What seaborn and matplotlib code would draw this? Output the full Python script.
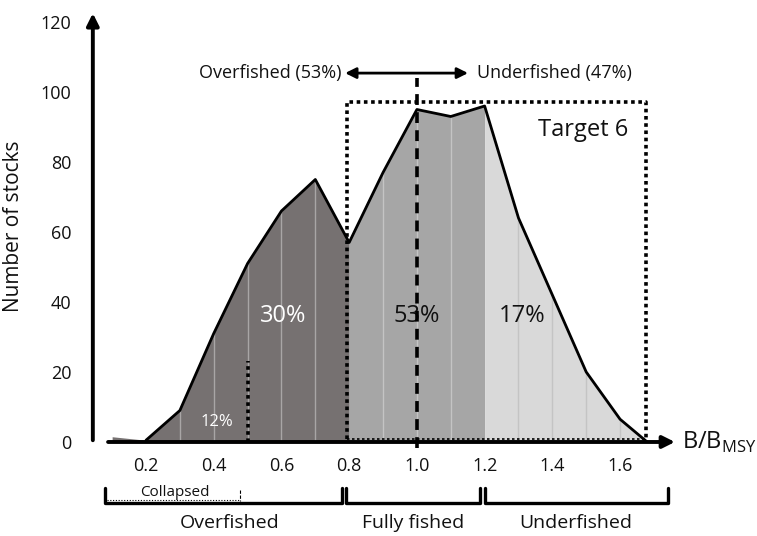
import matplotlib
matplotlib.use("Agg")
import matplotlib.pyplot as plt
import seaborn as sns
import pandas as pd

# B/BMSY bins and number of stocks
b_ratio = [0.1, 0.2, 0.3, 0.4, 0.5, 0.6, 0.7, 0.8, 0.9, 1.0, 1.1, 1.2, 1.3, 1.4, 1.5, 1.6, 1.68]
n_stocks = [1.5, 0.5, 9, 31, 51, 66, 75, 57, 77, 95, 93, 96, 64, 42, 20, 6.5, 0]

# zone boundaries, colours and in-zone share labels
zone_edges = [0.1, 0.8, 1.2, 1.68]
zone_colors = ["#767171", "#a6a6a6", "#d9d9d9"]
zone_lines = ["#a9a6a6", "#c4c4c4", "#c4c4c4"]
zone_pct = ["30%", "53%", "17%"]
zone_pct_pos = [(0.605, 36), (1.0, 36), (1.31, 36)]
zone_pct_color = ["white", "#111111", "#111111"]

y_ticks = [0, 20, 40, 60, 80, 100, 120]
x_ticks = [0.2, 0.4, 0.6, 0.8, 1.0, 1.2, 1.4, 1.6]

df = pd.DataFrame({"b": b_ratio, "n": n_stocks})

sns.set_theme(style="white")
plt.rcParams["font.family"] = ["Open Sans", "DejaVu Sans"]
plt.rcParams["text.color"] = "#111111"
plt.rcParams["axes.labelcolor"] = "#111111"
plt.rcParams["xtick.color"] = "#111111"
plt.rcParams["ytick.color"] = "#111111"

fig = plt.figure(figsize=(7.57, 5.36), dpi=100)
ax = fig.add_axes([0.1034, 0.1754, 0.8052, 0.8162])
ax.set_xlim(0, 1.8)
ax.set_ylim(0, 125)
for s in ax.spines.values():
    s.set_visible(False)

# shaded zones with thin vertical bin lines
for i in range(3):
    lo, hi = zone_edges[i], zone_edges[i + 1]
    sub = df[(df.b >= lo - 1e-9) & (df.b <= hi + 1e-9)]
    ax.fill_between(sub.b, 0, sub.n, color=zone_colors[i], lw=0, zorder=1)
    inner = sub[(sub.b > lo + 1e-9) & (sub.b < hi - 1e-9)]
    ax.vlines(inner.b, 0, inner.n, colors=zone_lines[i], lw=1, zorder=2)
    ax.text(*zone_pct_pos[i], zone_pct[i], color=zone_pct_color[i], fontsize=17,
            ha="center", va="center", zorder=4)

# outline (the first, near-empty bin is only shaded)
sns.lineplot(data=df[df.b >= 0.2], x="b", y="n", color="black", lw=2, ax=ax, zorder=4)
ax.set_xlabel("")

ax.text(0.41, 5.7, "12%", color="white", fontsize=12, ha="center", va="center", zorder=6)

# target box, collapsed line, BMSY line
ax.plot([0.793, 0.793, 1.677, 1.677], [0.8, 97, 97, 0.8], color="black", lw=2.6,
        ls=(0, (1, 1)), zorder=5)
ax.plot([0.793, 1.677], [0.8, 0.8], color="black", lw=1.2, ls=(0, (1.5, 1.5)), zorder=5)
ax.plot([0.5, 0.5], [0, 23], color="black", lw=2.6, ls=(0, (1, 1)), zorder=5)
ax.plot([1.0, 1.0], [-1.8, 104], color="black", lw=2.6, ls=(0, (3, 2)), zorder=5,
        clip_on=False)
ax.text(1.49, 89, "Target 6", fontsize=17, ha="center", va="center")

# over/under fished arrow
ax.annotate("", xy=(0.788, 105.4), xytext=(1.151, 105.4),
            arrowprops=dict(arrowstyle="<|-|>", color="black", lw=2, mutation_scale=16,
                            shrinkA=0, shrinkB=0))
ax.text(0.778, 105.4, "Overfished (53%)", fontsize=13, ha="right", va="center")
ax.text(1.176, 105.4, "Underfished (47%)", fontsize=13, ha="left", va="center")

# hand drawn axes
ax.annotate("", xy=(1.762, 0), xytext=(0.088, 0), annotation_clip=False,
            arrowprops=dict(arrowstyle="-|>", color="black", lw=2.8, mutation_scale=18,
                            shrinkA=0, shrinkB=0), zorder=7)
ax.annotate("", xy=(0.043, 122.5), xytext=(0.043, 0.5), annotation_clip=False,
            arrowprops=dict(arrowstyle="-|>", color="black", lw=2.8, mutation_scale=18,
                            shrinkA=0, shrinkB=0), zorder=7)
ax.text(1.782, 0, r"B/B$_\mathregular{MSY}$", fontsize=17, ha="left", va="center")

ax.set_yticks(y_ticks)
ax.set_yticklabels([str(v) for v in y_ticks], fontsize=13)
ax.set_xticks(x_ticks)
ax.set_xticklabels([f"{v:.1f}" for v in x_ticks], fontsize=13)
ax.tick_params(axis="y", length=0, pad=5)
ax.tick_params(axis="x", length=0, pad=11)
ax.set_ylabel("Number of stocks", fontsize=15)
ax.yaxis.set_label_coords(-0.089, 0.494)

# brackets under the axis
def bracket(x0, x1, y_top=-13.1, y_bot=-17.4):
    ax.plot([x0, x0, x1, x1], [y_top, y_bot, y_bot, y_top], color="black", lw=2.4,
            clip_on=False, solid_joinstyle="round")

bracket(0.079, 0.779)
bracket(0.791, 1.186)
bracket(1.201, 1.742)
ax.plot([0.085, 0.478], [-16.6, -16.6], color="black", lw=0.8, ls=(0, (1, 1.5)), clip_on=False)
ax.plot([0.478, 0.478], [-13.6, -17.0], color="black", lw=0.8, ls=(0, (3, 1.5)), clip_on=False)
ax.text(0.286, -14.4, "Collapsed", fontsize=11, ha="center", va="center", clip_on=False)
ax.text(0.448, -23.2, "Overfished", fontsize=14, ha="center", va="center")
ax.text(0.99, -23.2, "Fully fished", fontsize=14, ha="center", va="center")
ax.text(1.47, -23.2, "Underfished", fontsize=14, ha="center", va="center")

fig.savefig("out.png", dpi=100)
